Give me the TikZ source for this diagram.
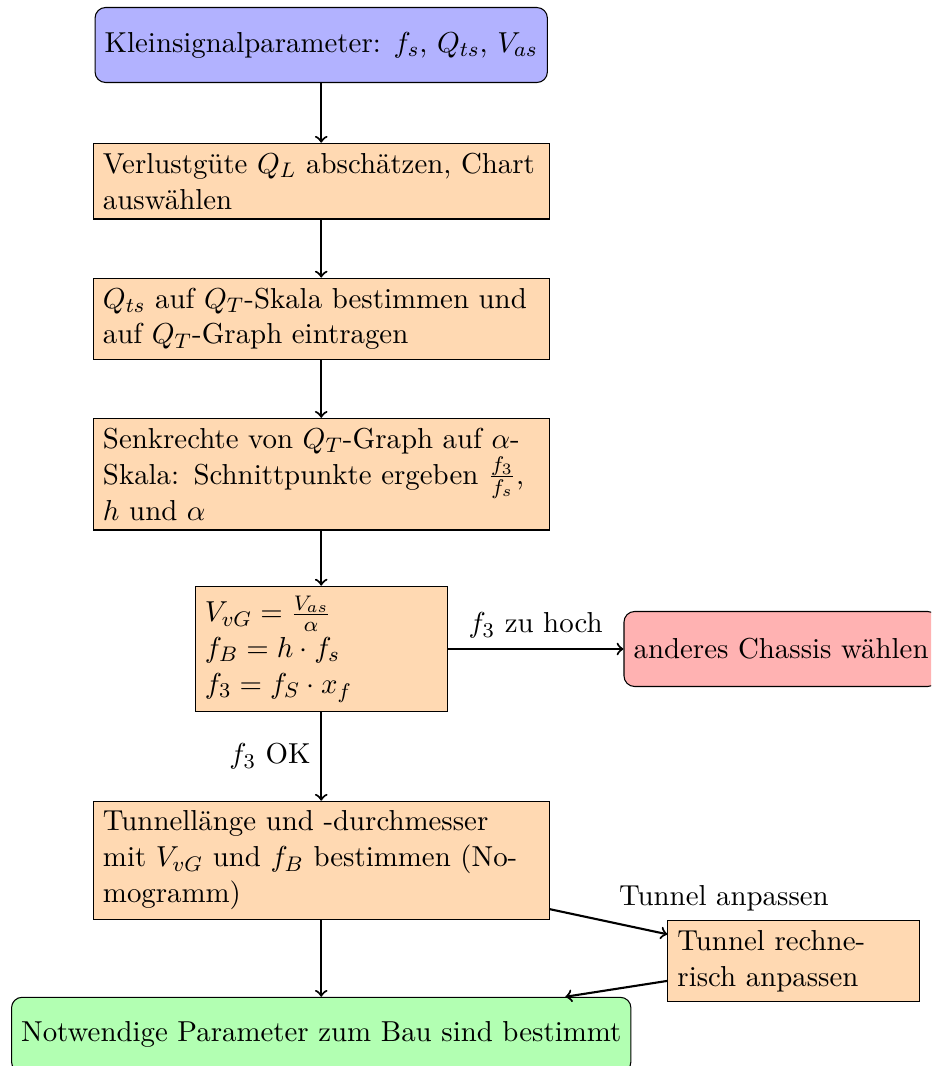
\documentclass[tikz,border=0pt,11pt]{standalone}
\begin{document}
\begin{tikzpicture}[
  startstop/.style={rectangle, rounded corners, minimum width=3cm,
                    minimum height=1cm, align=center, draw=black},
  process/.style={rectangle, minimum height=1cm, text width=5.82cm,
                  align=left, draw=black, fill=orange!30},
  smallprocess/.style={process, text width=3.1cm},
  arrow/.style={thick, ->}]
  \useasboundingbox (-4.283,0.6) rectangle (8.131,-13.613);
  \clip (-4.283,0.6) rectangle (8.131,-13.613);
  \node[startstop, fill=blue!30] (start) at (0,0)
    {Kleinsignalparameter: $f_s$, $Q_{ts}$, $V_{as}$};
  \node[process] (verlust) at (0,-1.815)
    {Verlustgüte $Q_L$ abschätzen, Chart\\auswählen};
  \node[process] (qskala) at (0,-3.651)
    {$Q_{ts}$ auf $Q_T$-Skala bestimmen und\\auf $Q_T$-Graph eintragen};
  \node[process] (senkrecht) at (0,-5.722)
    {Senkrechte von $Q_T$-Graph auf $\alpha$-\\Skala: Schnittpunkte ergeben $\frac{f_3}{f_s}$,\\$h$ und $\alpha$};
  \node[smallprocess] (formel) at (0,-8.053)
    {$V_{vG}=\frac{V_{as}}{\alpha}$\\$f_B=h\cdot f_s$\\$f_3=f_S\cdot x_f$};
  \node[startstop, fill=red!30, anchor=west] (chassis) at (4.03,-8.053)
    {anderes Chassis wählen};
  \node[process] (tunnel) at (0,-10.871)
    {Tunnellänge und -durchmesser\\mit $V_{vG}$ und $f_B$ bestimmen (No-\\mogramm)};
  \node[smallprocess] (anpassen) at (6.30,-12.216)
    {Tunnel rechne-\\risch anpassen};
  \node[startstop, fill=green!30, anchor=north] (ende) at (0,-12.69)
    {Notwendige Parameter zum Bau sind bestimmt};
  % connections
  \draw[arrow] (start) -- (verlust);
  \draw[arrow] (verlust) -- (qskala);
  \draw[arrow] (qskala) -- (senkrecht);
  \draw[arrow] (senkrecht) -- (formel);
  \draw[arrow] (formel) -- node[above] {$f_3$ zu hoch} (chassis);
  \draw[arrow] (formel) -- node[left] {$f_3$ OK} (tunnel);
  \draw[arrow] (tunnel) -- (ende);
  \draw[arrow] (tunnel) -- node[above right] {Tunnel anpassen} (anpassen);
  \draw[arrow] (anpassen) -- (ende);
\end{tikzpicture}
\end{document}
